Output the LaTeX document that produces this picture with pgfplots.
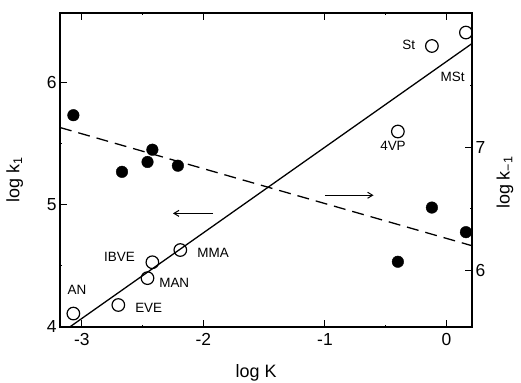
\documentclass[border=0pt]{standalone}
\usepackage{pgfplots}
\pgfplotsset{compat=1.18}
\usepackage{fontspec}
\setmainfont{Liberation Sans}
\usetikzlibrary{arrows.meta}
\begin{document}
\begin{tikzpicture}
\pgfplotsset{common/.style={
  width=412bp, height=314bp, scale only axis,
  xmin=-3.18, xmax=0.21, clip=false,
  axis line style={line width=1.3pt},
  major tick style={line width=1.1pt, black}, minor tick style={line width=1pt, black},
  major tick length=7bp, minor tick length=2bp,
  tick label style={font=\fontsize{17.5}{20}\selectfont},
  /pgf/number format/assume math mode=true,
}}
\begin{axis}[common, name=main,
  ymin=4, ymax=6.57,
  xtick={-3,-2,-1,0}, ytick={4,5,6},
  minor xtick={-2.5,-0.5}, minor ytick={4.5,5.5},
  xtick pos=both, ytick pos=left,
  xticklabel pos=lower,
  xticklabel style={yshift=-3bp},
]
% fitted line (left axis)
\addplot[black, line width=1.3pt] coordinates {(-3.10,4.0) (0.21,6.32)};
% open circles: log k1
\addplot[only marks, mark=o, mark size=6.3bp, mark options={line width=1.2pt, fill=white, draw=black}]
 coordinates {(-3.07,4.11) (-2.70,4.18) (-2.46,4.40) (-2.42,4.53) (-2.19,4.63) (-0.40,5.60) (-0.12,6.30) (0.16,6.41)};
\begin{scope}[font=\fontsize{13.5}{15}\selectfont]
\node at (axis cs:-0.31,6.31) {St};
\node at (axis cs:0.05,6.05) {MSt};
\node at (axis cs:-0.44,5.48) {4VP};
\node at (axis cs:-2.69,4.57) {IBVE};
\node at (axis cs:-1.92,4.61) {MMA};
\node at (axis cs:-2.24,4.36) {MAN};
\node at (axis cs:-2.45,4.16) {EVE};
\node at (axis cs:-3.04,4.30) {AN};
\end{scope}
\draw[line width=1pt, -{Straight Barb[length=5bp,width=6bp]}] (axis cs:-1.92,4.93) -- (axis cs:-2.25,4.93);
\node[rotate=90, font=\fontsize{18}{20}\selectfont] at (rel axis cs:-0.11,0.47) {log k\textsubscript{1}};
\node[font=\fontsize{18}{20}\selectfont] at (rel axis cs:0.476,-0.146) {log K};
\end{axis}
\begin{axis}[common,
  ymin=5.54, ymax=8.09,
  axis y line*=right, axis x line=none,
  ytick={6,7}, minor ytick={6.5,7.5},
]
\addplot[black, line width=1.3pt, dash pattern=on 12bp off 7bp] coordinates {(-3.18,7.16) (0.21,6.20)};
\addplot[only marks, mark=*, mark size=5.8bp, black]
 coordinates {(-3.07,7.26) (-2.67,6.80) (-2.46,6.88) (-2.42,6.98) (-2.21,6.85) (-0.12,6.51) (0.16,6.31) (-0.40,6.07)};
\draw[line width=1pt, -{Straight Barb[length=5bp,width=6bp]}] (axis cs:-1.0,6.61) -- (axis cs:-0.60,6.61);
\node[rotate=90, font=\fontsize{18}{20}\selectfont] at (rel axis cs:1.08,0.46) {log k\textsubscript{−1}};
\end{axis}
\pgfresetboundingbox
\path[use as bounding box] ([shift={(-60bp,-56bp)}]main.south west) rectangle ([shift={(49bp,13bp)}]main.north east);
\end{tikzpicture}
\end{document}
